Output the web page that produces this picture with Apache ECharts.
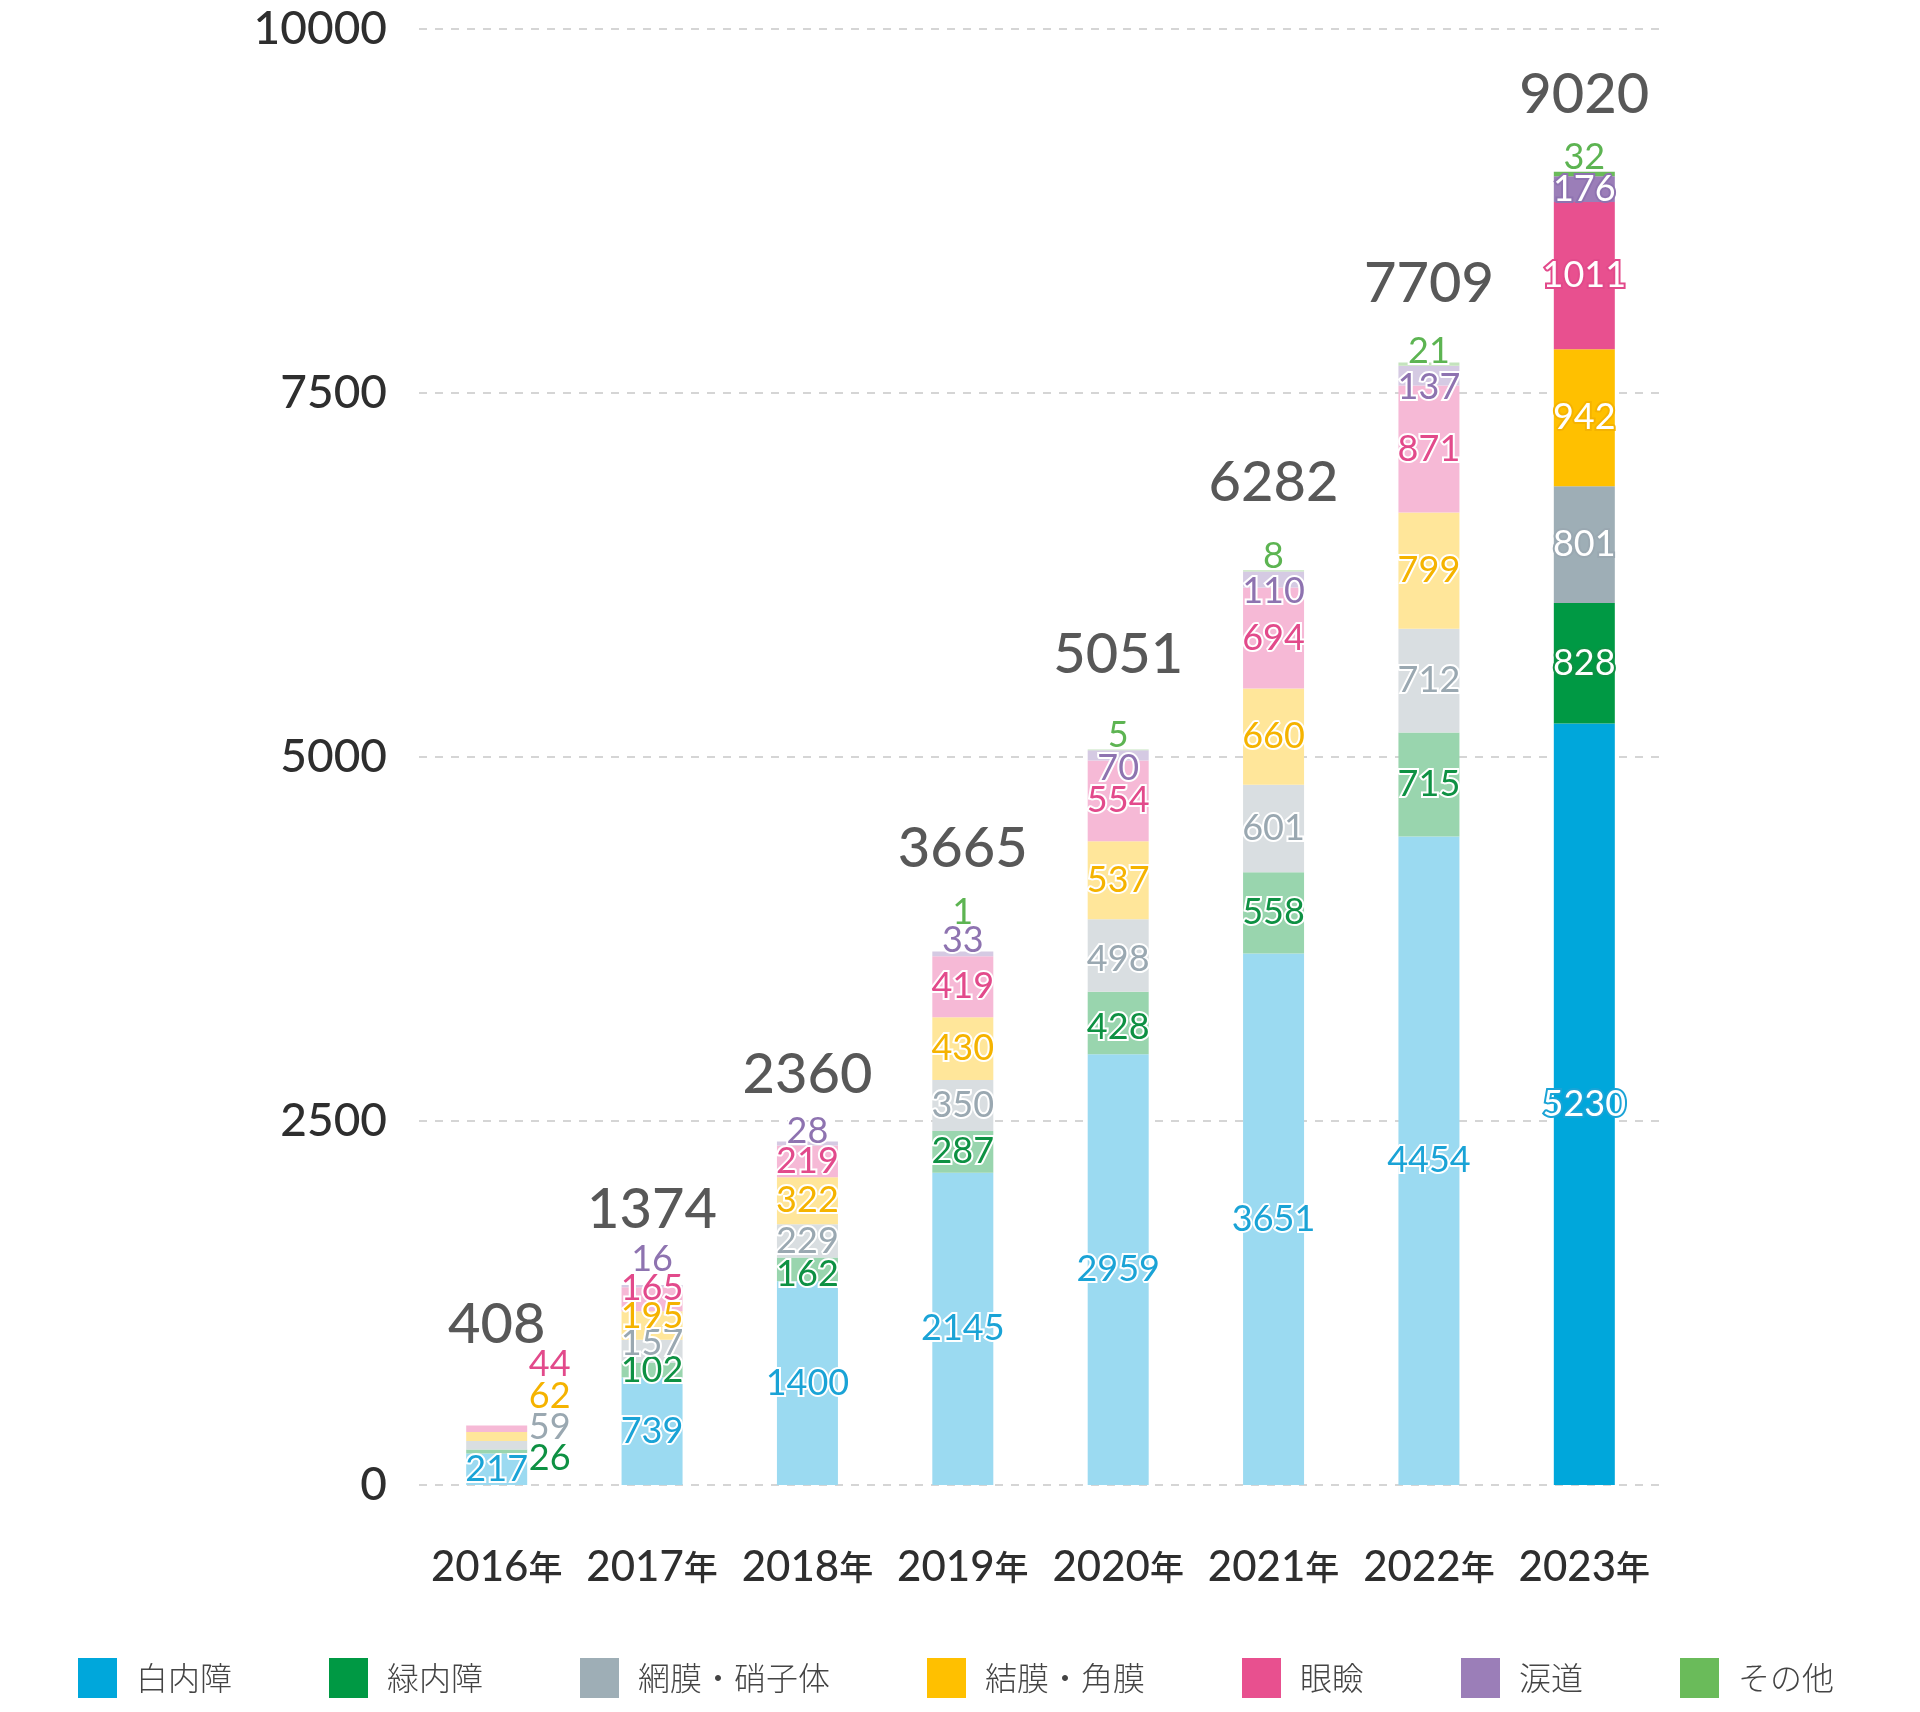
<!DOCTYPE html>
<html>
<head>
<meta charset="utf-8">
<script src="https://cdn.jsdelivr.net/npm/echarts@6/dist/echarts.min.js"></script>
<style>
html,body{margin:0;padding:0;background:#fff;}
#c{width:1920px;height:1712px;}
</style>
</head>
<body>
<div id="c"></div>
<script>
// ---- data ----
const categories = ['2016年','2017年','2018年','2019年','2020年','2021年','2022年','2023年'];
const seriesNames = ['白内障','緑内障','網膜・硝子体','結膜・角膜','眼瞼','涙道','その他'];
const cataract   = [217, 739, 1400, 2145, 2959, 3651, 4454, 5230];
const glaucoma   = [26, 102, 162, 287, 428, 558, 715, 828];
const retina     = [59, 157, 229, 350, 498, 601, 712, 801];
const cornea     = [62, 195, 322, 430, 537, 660, 799, 942];
const eyelid     = [44, 165, 219, 419, 554, 694, 871, 1011];
const lacrimal   = [0, 16, 28, 33, 70, 110, 137, 176];
const others     = [0, 0, 0, 1, 5, 8, 21, 32];
const totals     = [408, 1374, 2360, 3665, 5051, 6282, 7709, 9020];
const yTicks     = [0, 2500, 5000, 7500, 10000];

// ---- styles ----
const fullColors  = ['#00A7DB','#009944','#9EAEB6','#FFC000','#E8508F','#9B7EB8','#6ABB5A'];
const lightColors = ['#9BDAF1','#99D5AE','#D9DEE1','#FFE69A','#F6B9D6','#D5CAE3','#C4E3BD'];
const labelColors = ['#1AA3D6','#0E9143','#9AA8B1','#F5B300','#E24A8B','#8E73B0','#5DB452'];
// label nudges [dx, dy] keyed "series-year"
const nudges = {
  '1-0':[53,6.5], '2-0':[53,-18], '3-0':[53,-40.5], '4-0':[53,-64],
  '2-1':[0,-8], '3-1':[0,-9], '4-1':[0,-11], '5-1':[0,-27],
  '1-2':[0,5.5], '5-2':[0,-12.5],
  '5-3':[0,-14], '6-3':[0,-39],
  '1-4':[0,4], '2-4':[0,4], '5-4':[0,12.5], '6-4':[0,-15],
  '5-5':[0,12], '6-5':[0,-15],
  '5-6':[0,12], '6-6':[0,-12.5],
  '6-7':[0,-17]
};
const totalLift = [101, 75, 66, 102, 95, 87, 79, 77];
const NUM_FONT = 'Lato, "Noto Sans", sans-serif';

const seriesData = [cataract, glaucoma, retina, cornea, eyelid, lacrimal, others];

const barSeries = seriesData.map((arr, si) => ({
  name: seriesNames[si],
  type: 'bar',
  stack: 'total',
  barWidth: 61,
  itemStyle: { color: fullColors[si] },
  emphasis: { disabled: true },
  data: arr.map((v, yi) => {
    const last = yi === categories.length - 1;
    const nd = nudges[si + '-' + yi] || [0, 0];
    const outside = last && si === 6;
    return {
      value: v,
      itemStyle: { color: last ? fullColors[si] : lightColors[si] },
      label: {
        show: v > 0,
        position: 'inside',
        offset: nd,
        formatter: String(v),
        fontFamily: NUM_FONT,
        fontSize: 36,
        color: (last && !outside) ? '#ffffff' : labelColors[si],
        textBorderColor: (last && !outside) ? labelColors[si] : '#ffffff',
        textBorderWidth: 4
      }
    };
  })
}));

const totalSeries = {
  type: 'scatter',
  symbolSize: 0,
  silent: true,
  z: 10,
  data: totals.map((t, i) => ({
    value: t,
    label: {
      show: true,
      position: 'inside',
      offset: [0, -totalLift[i]],
      formatter: String(t),
      fontFamily: NUM_FONT,
      fontSize: 56,
      fontWeight: 500,
      color: '#2e2e2e'
    }
  }))
};

const chart = echarts.init(document.getElementById('c'), null, { renderer: 'canvas' });
chart.setOption({
  animation: false,
  backgroundColor: '#ffffff',
  grid: { left: 419, right: 258, top: 29, bottom: 227, containLabel: false },
  legend: {
    data: seriesNames,
    left: 78,
    top: 1658,
    padding: 0,
    icon: 'rect',
    itemWidth: 39,
    itemHeight: 40,
    itemGap: 97,
    selectedMode: false,
    textStyle: {
      fontFamily: '"Noto Sans CJK JP", sans-serif',
      fontWeight: 300,
      fontSize: 32,
      color: '#444444',
      padding: [0, 0, 0, 14]
    }
  },
  xAxis: {
    type: 'category',
    data: categories,
    axisLine: { show: false },
    axisTick: { show: false },
    axisLabel: {
      margin: 61,
      interval: 0,
      formatter: (v) => '{y|' + v.replace('年', '') + '}{n|年}',
      rich: {
        y: { fontFamily: NUM_FONT, fontSize: 42, fontWeight: 500, color: '#2e2e2e' },
        n: { fontFamily: '"Noto Sans CJK JP", sans-serif', fontSize: 34, fontWeight: 500, color: '#2e2e2e' }
      }
    }
  },
  yAxis: {
    type: 'value',
    min: yTicks[0],
    max: yTicks[yTicks.length - 1],
    interval: yTicks[1] - yTicks[0],
    axisLine: { show: false },
    axisTick: { show: false },
    axisLabel: {
      margin: 32,
      formatter: (v) => String(v),
      fontFamily: NUM_FONT,
      fontSize: 46,
      fontWeight: 500,
      color: '#2e2e2e'
    },
    splitLine: { lineStyle: { color: '#c8c8c8', type: [8, 8], width: 1.5 } }
  },
  series: [...barSeries, totalSeries]
});
</script>
</body>
</html>
